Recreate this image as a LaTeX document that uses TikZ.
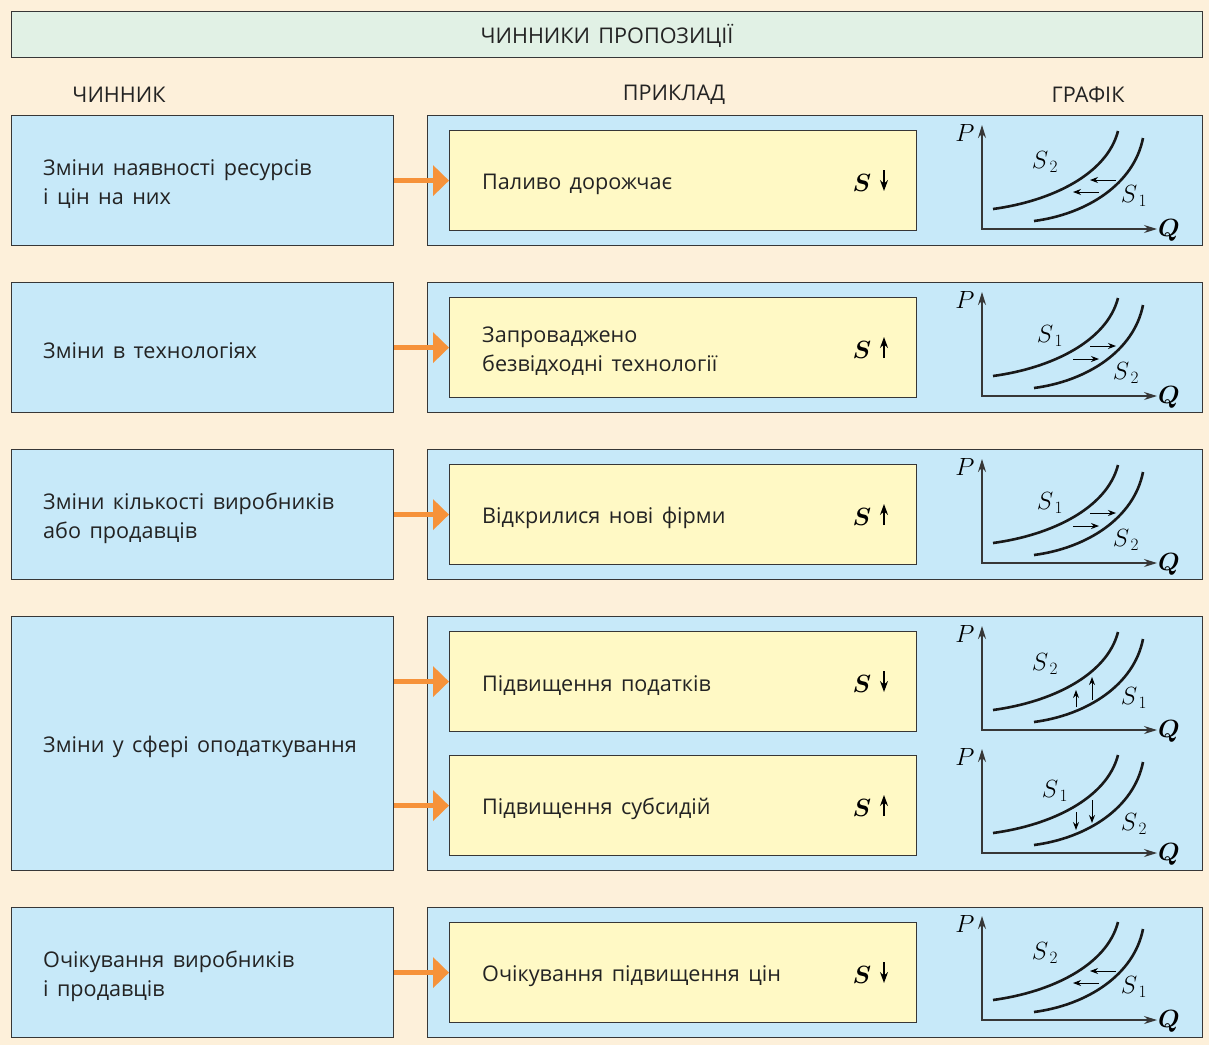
\documentclass[tikz,border=0pt]{standalone}
\usepackage{bm}
\usepackage{fontspec}
\setmainfont{Open Sans}[WordSpace=1.5]
\usetikzlibrary{arrows.meta}
\definecolor{bgpeach}{RGB}{253,240,218}
\definecolor{boxblue}{RGB}{199,233,249}
\definecolor{boxyellow}{RGB}{255,249,197}
\definecolor{hdrgreen}{RGB}{225,241,229}
\definecolor{edge}{RGB}{55,55,55}
\definecolor{orangearr}{RGB}{246,146,58}
\definecolor{txt}{RGB}{35,35,35}
\tikzset{
  frame/.style={draw=edge,line width=1.2pt,inner sep=0pt},
  leftbox/.style={frame,fill=boxblue,anchor=north west,minimum width=382pt},
  bigbox/.style={frame,fill=boxblue,anchor=north west,minimum width=775pt},
  ybox/.style={frame,fill=boxyellow,anchor=north west,minimum width=467pt,minimum height=100pt},
  btext/.style={anchor=west,inner sep=0pt,align=left,text=txt,font=\fontsize{21.6}{29}\selectfont},
  colhead/.style={font=\fontsize{21.6}{24}\selectfont,text=txt},
  feed/.style={draw=orangearr,line width=5pt,-{Triangle[width=30pt,length=16pt]}},
  axis/.style={draw=edge,line width=1.3pt,{Stealth[length=13pt,width=8pt]}-{Stealth[length=13pt,width=8pt]}},
  curve/.style={draw=black!90,line width=2.6pt},
  shiftarr/.style={draw=black,line width=1pt,-{Stealth[length=8pt,width=6pt]}},
  lab/.style={font=\fontsize{24}{24}\selectfont,inner sep=0pt},
  smark/.style={inner sep=0pt,font=\fontsize{25}{25}\selectfont},
  sarr/.style={draw=black,line width=1.3pt,-{Stealth[length=11pt,width=8pt]}},
  pics/supbase/.style={code={
    \draw[axis] (0,-104) -- (0,0) -- (175,0);
    \node[lab] (-P) at (-17,-96) {$P$};
    \node[lab] (-Q) at (187,1) {$\bm{Q}$};
    \draw[curve] (11,-20) .. controls (70,-28) and (125,-55) .. (136,-98);
    \draw[curve] (52,-8) .. controls (105,-15) and (152,-45) .. (161,-91);
  }},
  pics/sleft/.style={code={
    \pic {supbase};
    \draw[shiftarr] (134,-49) -- (108,-49);
    \draw[shiftarr] (117,-37) -- (91,-37);
    \node[lab] (-a) at (63,-67) {$S_{\,2}$};
    \node[lab] (-b) at (152,-33) {$S_{\,1}$};
  }},
  pics/sright/.style={code={
    \pic {supbase};
    \draw[shiftarr] (108,-50) -- (134,-50);
    \draw[shiftarr] (91,-37) -- (117,-37);
    \node[lab] (-a) at (68,-60) {$S_{\,1}$};
    \node[lab] (-b) at (144,-23) {$S_{\,2}$};
  }},
  pics/sup/.style={code={
    \pic {supbase};
    \draw[shiftarr] (94,-23) -- (94,-40);
    \draw[shiftarr] (110,-30) -- (110,-53);
    \node[lab] (-a) at (63,-66) {$S_{\,2}$};
    \node[lab] (-b) at (152,-32) {$S_{\,1}$};
  }},
  pics/sdown/.style={code={
    \pic {supbase};
    \draw[shiftarr] (94,-41) -- (94,-23);
    \draw[shiftarr] (110,-53) -- (110,-30);
    \node[lab] (-a) at (73,-62) {$S_{\,1}$};
    \node[lab] (-b) at (152,-29) {$S_{\,2}$};
  }},
}
\begin{document}
\begin{tikzpicture}[x=1pt,y=-1pt]
\fill[bgpeach] (0,0) rectangle (1209,1045);
\useasboundingbox (0,0) rectangle (1209,1045);
% header
\node[frame,fill=hdrgreen,anchor=north west,minimum width=1191pt,minimum height=46pt] (hdr) at (11,11) {};
\node[colhead] (hdrt) at (607,36) {ЧИННИКИ ПРОПОЗИЦІЇ};
\node[colhead] (h1) at (119,95) {ЧИННИК};
\node[colhead] (h2) at (674,95) {ПРИКЛАД};
\node[colhead] (h3) at (1088,95) {ГРАФІК};
% left boxes
\node[leftbox,minimum height=130pt] (l1) at (11,115) {};
\node[leftbox,minimum height=130pt] (l2) at (11,282) {};
\node[leftbox,minimum height=130pt] (l3) at (11,449) {};
\node[leftbox,minimum height=254pt] (l4) at (11,616) {};
\node[leftbox,minimum height=130pt] (l5) at (11,907) {};
\node[btext] (lt1) at (43,184) {Зміни наявності ресурсів\\і цін на них};
\node[btext] (lt2) at (43,351) {Зміни в технологіях};
\node[btext] (lt3) at (43,518) {Зміни кількості виробників\\або продавців};
\node[btext] (lt4) at (43,747) {Зміни у сфері оподаткування};
\node[btext] (lt5) at (43,976) {Очікування виробників\\і продавців};
% big boxes
\node[bigbox,minimum height=130pt] (b1) at (427,115) {};
\node[bigbox,minimum height=130pt] (b2) at (427,282) {};
\node[bigbox,minimum height=130pt] (b3) at (427,449) {};
\node[bigbox,minimum height=254pt] (b4) at (427,616) {};
\node[bigbox,minimum height=130pt] (b5) at (427,907) {};
% yellow boxes
\node[ybox] (y1) at (449,130) {};
\node[ybox] (y2) at (449,297) {};
\node[ybox] (y3) at (449,464) {};
\node[ybox] (y4a) at (449,631) {};
\node[ybox] (y4b) at (449,755) {};
\node[ybox] (y5) at (449,922) {};
\node[btext] (yt1) at (482,184) {Паливо дорожчає};
\node[btext] (yt2) at (482,351) {Запроваджено\\безвідходні технології};
\node[btext] (yt3) at (482,518) {Відкрилися нові фірми};
\node[btext] (yt4a) at (482,686) {Підвищення податків};
\node[btext] (yt4b) at (482,809) {Підвищення субсидій};
\node[btext] (yt5) at (482,976) {Очікування підвищення цін};
% S marks
\node[smark] (s1) at (862,183) {$\bm{S}$};
\node[smark] (s2) at (862,350) {$\bm{S}$};
\node[smark] (s3) at (862,517) {$\bm{S}$};
\node[smark] (s4) at (862,684) {$\bm{S}$};
\node[smark] (s5) at (862,808) {$\bm{S}$};
\node[smark] (s6) at (862,975) {$\bm{S}$};
\coordinate (t1) at (884,170); \coordinate (u1) at (884,191);
\coordinate (t2) at (884,337); \coordinate (u2) at (884,358);
\coordinate (t3) at (884,504); \coordinate (u3) at (884,525);
\coordinate (t4) at (884,671); \coordinate (u4) at (884,692);
\coordinate (t5) at (884,795); \coordinate (u5) at (884,816);
\coordinate (t6) at (884,962); \coordinate (u6) at (884,983);
\draw[sarr] (t1) -- (u1);
\draw[sarr] (u2) -- (t2);
\draw[sarr] (u3) -- (t3);
\draw[sarr] (t4) -- (u4);
\draw[sarr] (u5) -- (t5);
\draw[sarr] (t6) -- (u6);
% feeds
\draw[feed] (l1.east |- y1.west) -- (y1.west);
\draw[feed] (l2.east |- y2.west) -- (y2.west);
\draw[feed] (l3.east |- y3.west) -- (y3.west);
\draw[feed] (l4.east |- y4a.west) -- (y4a.west);
\draw[feed] (l4.east |- y4b.west) -- (y4b.west);
\draw[feed] (l5.east |- y5.west) -- (y5.west);
% graphs
\pic (g1) at (982,229) {sleft};
\pic (g2) at (982,396) {sright};
\pic (g3) at (982,563) {sright};
\pic (g4) at (982,730) {sup};
\pic (g5) at (982,853) {sdown};
\pic (g6) at (982,1020) {sleft};
\end{tikzpicture}
\end{document}
